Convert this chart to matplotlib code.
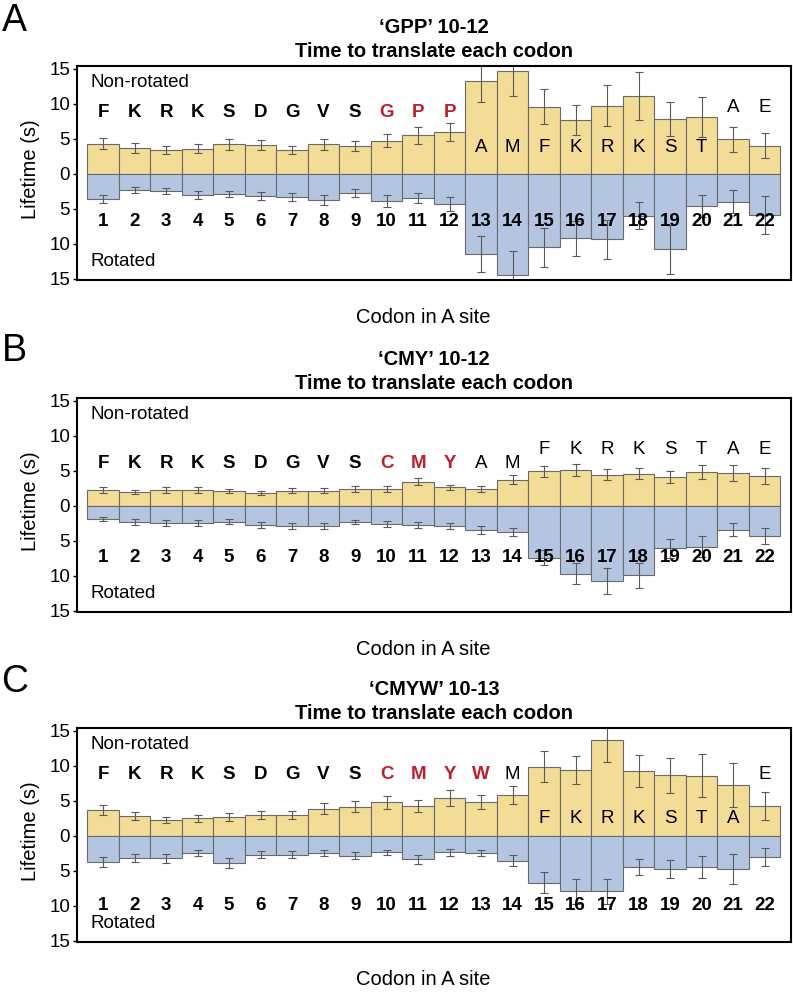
import numpy as np
import matplotlib
matplotlib.use("Agg")
import matplotlib.pyplot as plt

plt.rcParams['font.family'] = ['Liberation Sans', 'DejaVu Sans']

# codon positions 1..22
codons = np.arange(1, 23)

# --- panel A: 'GPP' 10-12 ---
seq_A = list("FKRKSDGVSGPPAMFKRKSTAE")
nonrot_A = [4.3, 3.65, 3.4, 3.6, 4.2, 4.1, 3.4, 4.2, 3.95, 4.75, 5.5, 5.95,
            13.2, 14.7, 9.6, 7.7, 9.75, 11.1, 7.8, 8.1, 4.95, 4.0]
nonrot_err_A = [0.8, 0.7, 0.6, 0.6, 0.8, 0.7, 0.6, 0.8, 0.7, 0.9, 1.2, 1.3,
                2.95, 3.6, 2.5, 2.2, 2.9, 3.4, 2.45, 2.85, 1.8, 1.8]
rot_A = [3.6, 2.3, 2.5, 3.05, 2.85, 3.2, 3.3, 3.75, 2.75, 3.9, 3.5, 4.3,
         11.5, 14.5, 10.5, 9.2, 9.35, 6.0, 10.8, 4.6, 4.0, 5.9]
rot_err_A = [0.6, 0.45, 0.45, 0.55, 0.45, 0.6, 0.6, 0.7, 0.55, 0.8, 0.75, 1.0,
             2.55, 3.5, 2.8, 2.5, 2.8, 1.9, 3.5, 1.6, 1.65, 2.65]

# --- panel B: 'CMY' 10-12 ---
seq_B = list("FKRKSDGVSCMYAMFKRKSTAE")
nonrot_B = [2.2, 1.95, 2.2, 2.2, 2.1, 1.85, 2.15, 2.15, 2.4, 2.35, 3.45, 2.65,
            2.35, 3.7, 4.9, 5.05, 4.45, 4.6, 4.05, 4.75, 4.65, 4.3]
nonrot_err_B = [0.4, 0.35, 0.4, 0.4, 0.35, 0.3, 0.4, 0.4, 0.4, 0.4, 0.5, 0.35,
                0.4, 0.65, 0.75, 0.85, 0.8, 0.8, 0.85, 1.0, 1.15, 1.15]
rot_B = [1.9, 2.35, 2.5, 2.45, 2.3, 2.75, 2.9, 2.9, 2.3, 2.65, 2.8, 2.9,
         3.45, 3.75, 7.45, 9.7, 10.8, 9.95, 6.1, 5.85, 3.45, 4.35]
rot_err_B = [0.3, 0.4, 0.4, 0.4, 0.35, 0.45, 0.45, 0.4, 0.3, 0.45, 0.4, 0.45,
             0.6, 0.6, 1.1, 1.45, 1.85, 1.8, 1.4, 1.5, 0.95, 1.15]

# --- panel C: 'CMYW' 10-13 ---
seq_C = list("FKRKSDGVSCMYWMFKRKSTAE")
nonrot_C = [3.65, 2.8, 2.25, 2.5, 2.7, 2.95, 2.95, 3.85, 4.15, 4.8, 4.25, 5.45,
            4.8, 5.8, 9.85, 9.4, 13.7, 9.25, 8.65, 8.6, 7.2, 4.25]
nonrot_err_C = [0.7, 0.55, 0.45, 0.5, 0.6, 0.6, 0.6, 0.8, 0.8, 0.95, 0.85, 1.15,
                1.0, 1.25, 2.2, 2.0, 3.15, 2.3, 2.5, 3.05, 3.15, 2.0]
rot_C = [3.75, 3.2, 3.2, 2.45, 3.9, 2.75, 2.75, 2.45, 2.85, 2.4, 3.35, 2.4,
         2.5, 3.55, 6.75, 7.95, 7.95, 4.45, 4.75, 4.5, 4.75, 3.1]
rot_err_C = [0.7, 0.6, 0.65, 0.4, 0.7, 0.5, 0.5, 0.45, 0.55, 0.4, 0.65, 0.5,
             0.45, 0.75, 1.5, 1.75, 1.75, 1.1, 1.3, 1.55, 2.1, 1.3]

titles = ["\u2018GPP\u2019 10-12", "\u2018CMY\u2019 10-12", "\u2018CMYW\u2019 10-13"]
panel_letters = ["A", "B", "C"]
# last bold (mutated) codon and first mutated codon
bold_until = [12, 12, 13]
mut_from = 10

# layout: height of residue letters and codon numbers in each panel
letter_y = [[8.7] * 12 + [3.7] * 8 + [9.5] * 2,
            [6.0] * 14 + [8.0] * 8,
            [8.7] * 14 + [2.5] * 7 + [8.7]]
number_y = [-6.85, -7.45, -10.0]

yellow = '#F3DC96'
blue = '#B4C5E2'
red = '#BE1E2D'

fig = plt.figure(figsize=(7.93, 9.92), dpi=100)

panels = [
    (seq_A, nonrot_A, nonrot_err_A, rot_A, rot_err_A),
    (seq_B, nonrot_B, nonrot_err_B, rot_B, rot_err_B),
    (seq_C, nonrot_C, nonrot_err_C, rot_C, rot_err_C),
]
bottoms = [0.7177, 0.3831, 0.0504]
letter_pos = [0.979, 0.646, 0.313]

for i, (seq, nr, nr_err, r, r_err) in enumerate(panels):
    ax = fig.add_axes([0.0971, bottoms[i], 0.900, 0.2157])
    nr = np.array(nr)
    r = np.array(r)
    ax.bar(codons, nr, width=1.0, color=yellow, edgecolor='#6a6a6a', linewidth=0.8)
    ax.bar(codons, -r, width=1.0, color=blue, edgecolor='#6a6a6a', linewidth=0.8)
    ax.errorbar(codons, nr, yerr=nr_err, fmt='none', ecolor='#5a5a5a',
                elinewidth=0.8, capsize=3.2, capthick=0.8)
    ax.errorbar(codons, -r, yerr=r_err, fmt='none', ecolor='#5a5a5a',
                elinewidth=0.8, capsize=3.2, capthick=0.8)

    for j, c in enumerate(codons):
        bold = c <= bold_until[i]
        col = red if (bold and c >= mut_from) else 'black'
        ax.text(c, letter_y[i][j], seq[j], ha='center', va='center',
                fontsize=13.5, fontweight='bold' if bold else 'normal', color=col)
        ax.text(c, number_y[i], str(c), ha='center', va='center',
                fontsize=13.5, fontweight='bold')

    ax.text(0.6, 13.0, "Non-rotated", ha='left', va='center', fontsize=13.5)
    ax.text(0.6, -12.6, "Rotated", ha='left', va='center', fontsize=13.5)

    ax.set_xlim(0.17, 22.83)
    ax.set_ylim(-15.2, 15.4)
    ax.set_xticks([])
    ax.set_yticks([-15, -10, -5, 0, 5, 10, 15])
    ax.set_yticklabels(['15', '10', '5', '0', '5', '10', '15'])
    ax.tick_params(axis='y', direction='out', length=3, width=1, labelsize=13.5, pad=2)
    for s in ax.spines.values():
        s.set_linewidth(1.5)

    ax.set_ylabel("Lifetime (s)", fontsize=14.5)
    ax.yaxis.set_label_coords(-0.052, 0.52)

    ax.text(0.5, 1.178, titles[i], transform=ax.transAxes, ha='center',
            va='center', fontsize=14.5, fontweight='bold')
    ax.text(0.5, 1.068, "Time to translate each codon", transform=ax.transAxes,
            ha='center', va='center', fontsize=14.5, fontweight='bold')
    ax.text(0.485, -0.175, "Codon in A site", transform=ax.transAxes,
            ha='center', va='center', fontsize=14.5)

    fig.text(0.002, letter_pos[i], panel_letters[i], ha='left', va='center',
             fontsize=27)

fig.savefig("out.png", dpi=100)
